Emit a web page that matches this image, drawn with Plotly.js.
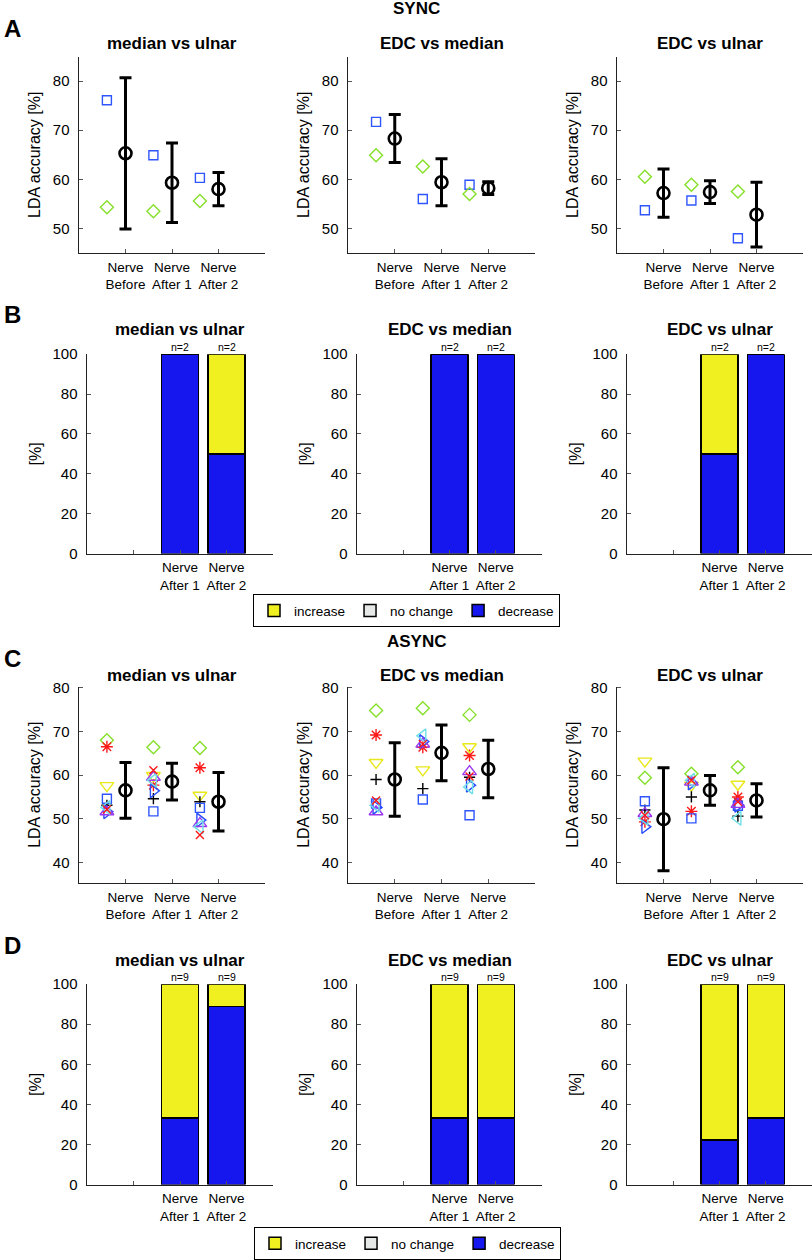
<!DOCTYPE html>
<html>
<head>
<meta charset="utf-8">
<script src="https://cdn.plot.ly/plotly-3.0.1.min.js"></script>
<style>
  body { margin: 0; background: #fff; }
  #fig { width: 812px; height: 1260px; }
</style>
</head>
<body>
<div id="fig"></div>
<script>
'use strict';

const W = 812;
const H = 1260;
const FONT = 'Arial, "Liberation Sans", Helvetica, sans-serif';

// ---- data -------------------------------------------------------------
const comparisons = ['median vs ulnar', 'EDC vs median', 'EDC vs ulnar'];
const condLabels = ['Nerve<br>Before', 'Nerve<br>After 1', 'Nerve<br>After 2'];
const barLabels = ['', 'Nerve<br>After 1', 'Nerve<br>After 2'];
const condX = [1, 2, 3];
const barX = [2, 3];

// SYNC, two subjects (one row per comparison: Before, After 1, After 2)
const syncSquare = [[76.1, 64.9, 60.3], [71.7, 56.0, 58.9], [53.7, 55.7, 48.0]];
const syncDiamond = [[54.3, 53.5, 55.6], [64.9, 62.6, 57.0], [60.5, 58.9, 57.5]];
const syncMean = [[65.3, 59.3, 58.0], [68.3, 59.4, 58.2], [57.2, 57.4, 52.8]];
const syncSd = [[15.4, 8.1, 3.4], [4.9, 4.8, 1.3], [4.9, 2.3, 6.6]];

// ASYNC, nine subjects
const asyncDiamond = [[68.0, 66.4, 66.2], [74.8, 75.3, 73.8], [59.4, 60.3, 61.8]];
const asyncAsterisk = [[66.5, 57.7, 61.7], [69.2, 66.4, 64.5], [49.3, 51.7, 55.0]];
const asyncTriDown = [[57.6, 59.9, 55.4], [62.9, 61.2, 66.5], [63.2, 57.7, 57.9]];
const asyncPlus = [[53.1, 54.6, 53.9], [59.0, 56.9, 59.5], [52.0, 55.0, 50.6]];
const asyncSquare = [[54.6, 51.7, 52.5], [53.5, 54.4, 50.8], [54.0, 50.1, 53.0]];
const asyncTriRight = [[51.6, 56.4, 49.7], [52.6, 67.7, 57.7], [48.2, 58.2, 53.1]];
const asyncTriUp = [[51.6, 59.5, 48.9], [51.6, 67.1, 60.8], [51.2, 58.4, 53.3]];
const asyncTriLeft = [[52.6, 58.8, 48.2], [53.1, 69.0, 57.3], [50.1, 58.8, 50.1]];
const asyncCross = [[52.1, 61.1, 46.3], [54.2, 67.1, 59.7], [50.8, 58.8, 53.9]];
const asyncMean = [[56.5, 58.5, 53.9], [59.0, 65.1, 61.4], [49.9, 56.5, 54.2]];
const asyncSd = [[6.4, 4.2, 6.7], [8.4, 6.4, 6.6], [11.8, 3.4, 3.8]];

// change after nerve block, % of subjects (After 1, After 2)
const syncIncrease = [[0, 50], [0, 0], [50, 0]];
const syncNoChange = [[0, 0], [0, 0], [0, 0]];
const syncDecrease = [[100, 50], [100, 100], [50, 100]];
const syncN = [[2, 2], [2, 2], [2, 2]];
const asyncIncrease = [[66.7, 11.1], [66.7, 66.7], [77.8, 66.7]];
const asyncNoChange = [[0, 0], [0, 0], [0, 0]];
const asyncDecrease = [[33.3, 88.9], [33.3, 33.3], [22.2, 33.3]];
const asyncN = [[9, 9], [9, 9], [9, 9]];

// ---- layout boxes (px) -------------------------------------------------
const colsAC = [[79, 265], [348, 535], [617, 803]];
const colsBD = [[87, 273], [357, 542], [627, 812]];
const rowA = [57, 255];
const rowB = [357, 558];
const rowC = [692, 890];
const rowD = [992, 1194];

const OFFSET = 0.4;
const BLUE = '#2f55ff';
const GREEN = '#86e02a';

const data = [];
const layout = {
  width: W,
  height: H,
  margin: {l: 0, r: 0, t: 0, b: 0},
  paper_bgcolor: 'white',
  plot_bgcolor: 'rgba(0,0,0,0)',
  font: {family: FONT, color: 'black', size: 14},
  barmode: 'stack',
  showlegend: true,
  annotations: []
};

const px = v => v / W;
const py = v => 1 - v / H;
const axId = i => (i === 0 ? '' : String(i + 1));

function addAxes(i, col, row, yRange, yTicks, yTitle, tickText, standoff) {
  const id = axId(i);
  layout['xaxis' + id] = {
    domain: [px(col[0]), px(col[1])],
    anchor: 'y' + id,
    range: [0, 4],
    tickvals: condX,
    ticktext: tickText,
    ticks: 'inside',
    ticklen: 4,
    tickcolor: '#555',
    ticklabelstandoff: 1,
    showline: true,
    linecolor: '#222',
    linewidth: 1.5,
    showgrid: false,
    zeroline: false,
    tickfont: {size: 13.5},
    fixedrange: true
  };
  layout['yaxis' + id] = {
    domain: [py(row[1]), py(row[0])],
    anchor: 'x' + id,
    range: yRange,
    tickvals: yTicks,
    ticks: 'inside',
    ticklen: 4,
    tickcolor: '#555',
    ticklabelstandoff: 5,
    showline: true,
    linecolor: '#222',
    linewidth: 1.5,
    showgrid: false,
    zeroline: false,
    tickfont: {size: 15},
    title: {text: yTitle, font: {size: 16}, standoff: standoff},
    fixedrange: true
  };
}

function addTitle(col, y, text) {
  layout.annotations.push({
    xref: 'paper', yref: 'paper', x: px((col[0] + col[1]) / 2), y: py(y),
    xanchor: 'center', yanchor: 'middle', showarrow: false,
    text: '<b>' + text + '</b>', font: {size: 17}
  });
}

function scatterTrace(i, vals, symbol, color, size, shift) {
  const id = axId(i);
  return {
    type: 'scatter', mode: 'markers', xaxis: 'x' + id, yaxis: 'y' + id,
    x: condX.map(v => v - shift), y: vals, showlegend: false, hoverinfo: 'skip',
    marker: {symbol: symbol, size: size, color: color, line: {width: 1.4, color: color}}
  };
}

function meanTrace(i, mean, sd) {
  const id = axId(i);
  return {
    type: 'scatter', mode: 'markers', xaxis: 'x' + id, yaxis: 'y' + id,
    x: condX, y: mean, showlegend: false, hoverinfo: 'skip',
    marker: {symbol: 'circle-open', size: 12, color: 'black', line: {width: 2.6, color: 'black'}},
    error_y: {type: 'data', array: sd, visible: true, color: 'black', thickness: 3, width: 6}
  };
}

function barTraces(i, inc, noc, dec, legendName, showLeg) {
  const id = axId(i);
  const common = {
    type: 'bar', xaxis: 'x' + id, yaxis: 'y' + id, x: barX, width: 0.8,
    legend: legendName, showlegend: showLeg, hoverinfo: 'skip'
  };
  return [
    Object.assign({}, common, {y: dec, name: 'decrease', marker: {color: '#1616ee', line: {color: 'black', width: 1.5}}}),
    Object.assign({}, common, {y: noc, name: 'no change', marker: {color: '#e6e8e8', line: {color: 'black', width: 1.5}}}),
    Object.assign({}, common, {y: inc, name: 'increase', marker: {color: '#f0f020', line: {color: 'black', width: 1.5}}})
  ];
}

function addCounts(i, ns) {
  const id = axId(i);
  barX.forEach((x, k) => {
    layout.annotations.push({
      xref: 'x' + id, yref: 'y' + id, x: x, y: 100, yanchor: 'bottom',
      showarrow: false, text: 'n=' + ns[k], font: {size: 10.5}, yshift: -1
    });
  });
}

// ---- row A: SYNC accuracy ----------------------------------------------
comparisons.forEach((name, c) => {
  const i = c;
  addAxes(i, colsAC[c], rowA, [45, 85], [50, 60, 70, 80], 'LDA accuracy [%]', condLabels, 8);
  addTitle(colsAC[c], 44, name);
  data.push(scatterTrace(i, syncSquare[c], 'square-open', BLUE, 9, OFFSET));
  data.push(scatterTrace(i, syncDiamond[c], 'diamond-open', GREEN, 10, OFFSET));
  data.push(meanTrace(i, syncMean[c], syncSd[c]));
});

// ---- row B: SYNC change ------------------------------------------------
comparisons.forEach((name, c) => {
  const i = 3 + c;
  addAxes(i, colsBD[c], rowB, [0, 100], [0, 20, 40, 60, 80, 100], '[%]', barLabels, 7);
  addTitle(colsBD[c], 332, name);
  data.push(...barTraces(i, syncIncrease[c], syncNoChange[c], syncDecrease[c], 'legend', c === 0));
  addCounts(i, syncN[c]);
});

// ---- row C: ASYNC accuracy ---------------------------------------------
const asyncSets = [
  [asyncDiamond, 'diamond-open', GREEN, 10],
  [asyncAsterisk, 'asterisk-open', '#ff1a1a', 10],
  [asyncTriDown, 'triangle-down-open', '#e8e81a', 12],
  [asyncPlus, 'cross-thin-open', 'black', 8],
  [asyncSquare, 'square-open', BLUE, 9],
  [asyncTriRight, 'triangle-right-open', '#2a4cff', 12],
  [asyncTriUp, 'triangle-up-open', '#9a35f0', 12],
  [asyncTriLeft, 'triangle-left-open', '#6fe0e6', 12],
  [asyncCross, 'x-thin-open', '#ff1a1a', 8]
];
comparisons.forEach((name, c) => {
  const i = 6 + c;
  addAxes(i, colsAC[c], rowC, [35.3, 80.3], [40, 50, 60, 70, 80], 'LDA accuracy [%]', condLabels, 8);
  addTitle(colsAC[c], 681, name);
  asyncSets.forEach(s => data.push(scatterTrace(i, s[0][c], s[1], s[2], s[3], OFFSET)));
  data.push(meanTrace(i, asyncMean[c], asyncSd[c]));
});

// ---- row D: ASYNC change -----------------------------------------------
comparisons.forEach((name, c) => {
  const i = 9 + c;
  addAxes(i, colsBD[c], rowD, [0, 100], [0, 20, 40, 60, 80, 100], '[%]', barLabels, 7);
  addTitle(colsBD[c], 968, name);
  data.push(...barTraces(i, asyncIncrease[c], asyncNoChange[c], asyncDecrease[c], 'legend2', c === 0));
  addCounts(i, asyncN[c]);
});

// ---- legends, headings --------------------------------------------------
const legendBase = {
  xanchor: 'left', yanchor: 'top', orientation: 'h', traceorder: 'reversed',
  bgcolor: 'white', bordercolor: 'black', borderwidth: 1,
  font: {size: 13.5}, itemclick: false, itemdoubleclick: false
};
layout.legend = Object.assign({x: px(253), y: py(599)}, legendBase);
layout.legend2 = Object.assign({x: px(254), y: py(1237)}, legendBase);

[['A', 29], ['B', 317], ['C', 664], ['D', 953]].forEach(([t, y]) => {
  layout.annotations.push({
    xref: 'paper', yref: 'paper', x: px(2), y: py(y), xanchor: 'left', yanchor: 'middle',
    showarrow: false, text: '<b>' + t + '</b>', font: {size: 24}
  });
});
[['SYNC', 9], ['ASYNC', 647]].forEach(([t, y]) => {
  layout.annotations.push({
    xref: 'paper', yref: 'paper', x: px(417), y: py(y), xanchor: 'center', yanchor: 'middle',
    showarrow: false, text: '<b>' + t + '</b>', font: {size: 17}
  });
});

Plotly.newPlot('fig', data, layout, {staticPlot: true, displayModeBar: false});
</script>
</body>
</html>
